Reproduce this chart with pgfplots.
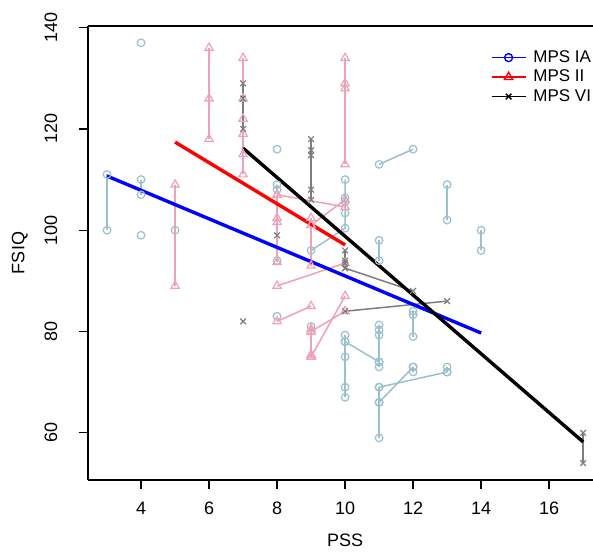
\documentclass[border=0pt]{standalone}
\usepackage{fontspec}
\setmainfont{Liberation Sans}
\usepackage{pgfplots}
\pgfplotsset{compat=1.18}

\definecolor{iacol}{RGB}{154,192,205}
\definecolor{iicol}{RGB}{238,162,182}
\definecolor{vicol}{RGB}{125,125,125}

\pgfplotsset{
  ia/.style={iacol, line width=0.75pt, mark=o, mark size=1.9pt, mark options={solid, line width=0.6pt}},
  ii/.style={iicol, line width=0.75pt, mark=triangle, mark size=2.4pt, mark options={solid, line width=0.6pt}},
  vi/.style={vicol, line width=0.75pt, mark=x, mark size=2pt, mark options={solid, line width=0.6pt}},
}

\begin{document}
\begin{tikzpicture}
\begin{axis}[
  scale only axis,
  width=252.5pt, height=227pt,
  xmin=2.44, xmax=17.29,
  ymin=50.68, ymax=140.32,
  axis x line*=box,
  axis y line*=left,
  axis line style={line width=0.7pt},
  xtick={4,6,...,16},
  ytick={60,80,...,140},
  xtick pos=bottom,
  ytick pos=left,
  tick align=outside,
  major tick length=4.5pt,
  tick style={line width=0.7pt, black},
  /pgf/number format/assume math mode=true,
  tick label style={font=\fontsize{9}{10}\selectfont},
  xticklabel style={anchor=center, yshift=-9.5pt},
  yticklabel style={xshift=-14pt, rotate=90, anchor=center},
  xlabel={PSS},
  ylabel={FSIQ},
  label style={font=\fontsize{9}{10}\selectfont},
  xlabel style={at={(axis description cs:0.509,-0.133)}, anchor=center},
  ylabel style={at={(axis description cs:-0.135,0.5)}, anchor=center},
  legend style={draw=none, fill=none, at={(axis description cs:0.785,0.963)}, anchor=north west,
    font=\fontsize{8.5}{10}\selectfont, cells={anchor=west}, row sep=-0.7pt,
    nodes={inner xsep=3.5pt, inner ysep=1.5pt}},
  legend image post style={xshift=-4.5pt},
  clip=false,
]
% MPS IA
\addplot[ia, forget plot] coordinates {(3,111) (3,100)};
\addplot[ia, forget plot] coordinates {(4,137)};
\addplot[ia, forget plot] coordinates {(4,110) (4,107)};
\addplot[ia, forget plot] coordinates {(4,99)};
\addplot[ia, forget plot] coordinates {(5,100)};
\addplot[ia, forget plot] coordinates {(8,116)};
\addplot[ia, forget plot] coordinates {(8,109) (8,108)};
\addplot[ia, forget plot] coordinates {(8,94)};
\addplot[ia, forget plot] coordinates {(8,83)};
\addplot[ia, forget plot] coordinates {(9,81)};
\addplot[ia, forget plot] coordinates {(10,110) (10,106.4) (10,105.6) (10,103.4) (10,100.4) (9,96)};
\addplot[ia, forget plot] coordinates {(10,79.3) (10,78) (10,75) (10,69) (10,67)};
\addplot[ia, forget plot] coordinates {(10,78) (11,74)};
\addplot[ia, forget plot] coordinates {(11,113) (12,116)};
\addplot[ia, forget plot] coordinates {(11,98) (11,94)};
\addplot[ia, forget plot] coordinates {(11,81.3) (11,80.3) (11,79.3) (11,74) (11,73)};
\addplot[ia, forget plot] coordinates {(11,69) (11,66) (11,59)};
\addplot[ia, forget plot] coordinates {(11,69) (13,72)};
\addplot[ia, forget plot] coordinates {(11,66) (12,73)};
\addplot[ia, forget plot] coordinates {(12,84) (12,83.3) (12,79)};
\addplot[ia, forget plot] coordinates {(12,73) (12,72)};
\addplot[ia, forget plot] coordinates {(13,73) (13,72)};
\addplot[ia, forget plot] coordinates {(13,109) (13,102)};
\addplot[ia, forget plot] coordinates {(14,100) (14,96)};
% MPS II
\addplot[ii, forget plot] coordinates {(5,109) (5,89)};
\addplot[ii, forget plot] coordinates {(6,136) (6,126) (6,118)};
\addplot[ii, forget plot] coordinates {(7,134) (7,126) (7,122) (7,119) (7,115) (7,111)};
\addplot[ii, forget plot] coordinates {(8,107) (8,102.4) (8,101.6) (8,93.7)};
\addplot[ii, forget plot] coordinates {(8,107) (10,104.6)};
\addplot[ii, forget plot] coordinates {(8,89) (10,93.5)};
\addplot[ii, forget plot] coordinates {(8,82) (9,85)};
\addplot[ii, forget plot] coordinates {(9,102.4) (9,101) (9,93)};
\addplot[ii, forget plot] coordinates {(9,101) (10,106)};
\addplot[ii, forget plot] coordinates {(9,80.5) (9,80) (9,75.4) (9,75)};
\addplot[ii, forget plot] coordinates {(9,75) (10,87)};
\addplot[ii, forget plot] coordinates {(9,80) (10,84)};
\addplot[ii, forget plot] coordinates {(10,134) (10,129) (10,128) (10,113)};
% MPS VI
\addplot[vi, forget plot] coordinates {(7,129) (7,126) (7,120)};
\addplot[vi, forget plot] coordinates {(7,82)};
\addplot[vi, forget plot] coordinates {(8,99)};
\addplot[vi, forget plot] coordinates {(9,118) (9,115.8) (9,114.8) (9,108) (9,106)};
\addplot[vi, forget plot] coordinates {(10,96) (10,94) (10,93.5) (10,92.5)};
\addplot[vi, forget plot] coordinates {(10,92.5) (12,88)};
\addplot[vi, forget plot] coordinates {(10,84) (13,86)};
\addplot[vi, forget plot] coordinates {(17,60) (17,54)};
% fitted lines
\addplot[blue, line width=1.7pt, forget plot] coordinates {(3,110.7) (14,79.7)};
\addplot[red, line width=1.7pt, forget plot] coordinates {(5,117.4) (10,97.1)};
\addplot[black, line width=1.7pt, forget plot] coordinates {(7,116.2) (17,58.2)};
\addlegendimage{blue, line width=0.7pt, mark=o, mark size=2pt}
\addlegendentry{MPS IA}
\addlegendimage{red, line width=0.7pt, mark=triangle, mark size=2.4pt}
\addlegendentry{MPS II}
\addlegendimage{black, line width=0.7pt, mark=x, mark size=2pt}
\addlegendentry{MPS VI}
\coordinate (ll) at (rel axis cs:0,0);
\coordinate (ur) at (rel axis cs:1,1);
\end{axis}
\pgfresetboundingbox
\path ([xshift=-44pt,yshift=-35.5pt]ll) rectangle ([yshift=13pt]ur);
\end{tikzpicture}
\end{document}
